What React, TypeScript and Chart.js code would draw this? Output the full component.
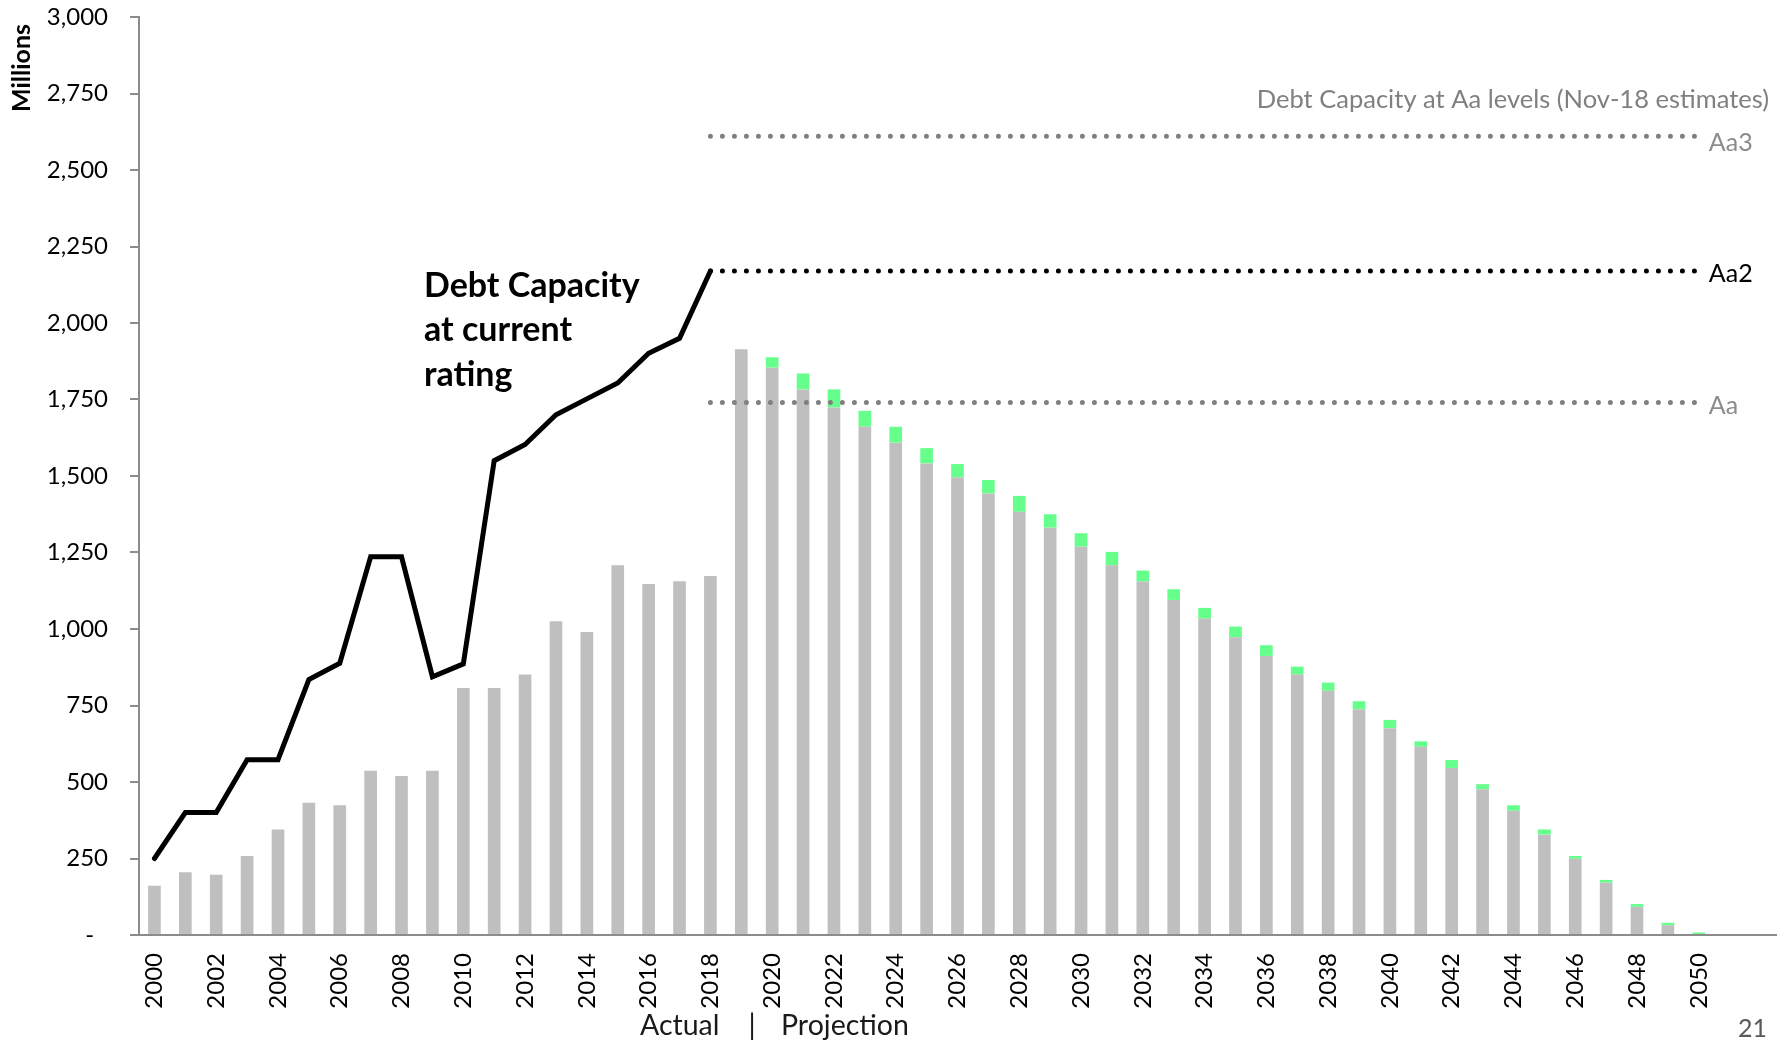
import React, { useEffect, useRef } from "react";
import { Chart, registerables } from "chart.js";

Chart.register(...registerables);

const years = [
  "2000", "2001", "2002", "2003", "2004", "2005", "2006", "2007", "2008", "2009",
  "2010", "2011", "2012", "2013", "2014", "2015", "2016", "2017", "2018", "2019",
  "2020", "2021", "2022", "2023", "2024", "2025", "2026", "2027", "2028", "2029",
  "2030", "2031", "2032", "2033", "2034", "2035", "2036", "2037", "2038", "2039",
  "2040", "2041", "2042", "2043", "2044", "2045", "2046", "2047", "2048", "2049",
  "2050", "2051", "2052",
];

const xTickLabels = [
  "2000", "2002", "2004", "2006", "2008", "2010", "2012", "2014", "2016", "2018",
  "2020", "2022", "2024", "2026", "2028", "2030", "2032", "2034", "2036", "2038",
  "2040", "2042", "2044", "2046", "2048", "2050",
];

// Debt outstanding (gray bars), millions
const baseDebt = [
  161, 205, 197, 258, 345, 432, 424, 537, 520, 537,
  807, 807, 851, 1025, 990, 1208, 1147, 1156, 1173, 1914,
  1854, 1783, 1724, 1661, 1609, 1541, 1496, 1443, 1383, 1331,
  1269, 1208, 1155, 1095, 1034, 973, 912, 851, 798, 738,
  676, 615, 546, 476, 406, 328, 249, 171, 92, 32,
  0, null, null,
];

// Additional projected debt (green bar tops), millions
const newDebt = [
  null, null, null, null, null, null, null, null, null, null,
  null, null, null, null, null, null, null, null, null, 0,
  34, 52, 59, 52, 52, 50, 43, 44, 52, 44,
  44, 44, 36, 35, 35, 35, 35, 26, 27, 26,
  27, 18, 26, 17, 18, 17, 9, 9, 9, 8,
  8, null, null,
];

// Debt capacity at current rating (black line), 2000-2018
const capacityCurrent = [
  250, 400, 400, 573, 573, 835, 888, 1236, 1236, 844,
  886, 1550, 1603, 1700, 1752, 1804, 1901, 1950, 2170,
];

// Debt capacity at Aa levels (Nov-18 estimates)
const refNames = ["Aa3", "Aa2", "Aa"];
const refValues = [2610, 2170, 1740];
const refLineColors = ["#808080", "#000000", "#808080"];
const refTextColors = ["#8c8c8c", "#000000", "#8c8c8c"];
const refLabelDy = [7, 3, 3];
const refSpan = ["2018", "2050"];

const yMin = 0;
const yMax = 3000;
const yStep = 250;

const FONT = "Lato, 'Open Sans', 'DejaVu Sans', sans-serif";

const annotationPlugin = {
  id: "annotations",
  afterDraw(chart: any) {
    const ctx = chart.ctx as CanvasRenderingContext2D;
    const x = chart.scales.x;
    const y = chart.scales.y;
    ctx.save();

    // "Millions" rotated title
    ctx.save();
    ctx.translate(30, 68);
    ctx.rotate(-Math.PI / 2);
    ctx.font = `bold 25px ${FONT}`;
    ctx.fillStyle = "#000";
    ctx.textAlign = "center";
    ctx.textBaseline = "alphabetic";
    ctx.fillText("Millions", 0, 0);
    ctx.restore();

    // Debt capacity at current rating
    ctx.font = `bold 34px ${FONT}`;
    ctx.fillStyle = "#000";
    ctx.textAlign = "left";
    ctx.textBaseline = "alphabetic";
    ctx.fillText("Debt Capacity", 424, 297);
    ctx.fillText("at current", 424, 341);
    ctx.fillText("rating", 424, 386);

    // Aa levels heading
    ctx.font = `25.5px ${FONT}`;
    ctx.fillStyle = "#808080";
    ctx.textAlign = "right";
    ctx.fillText("Debt Capacity at Aa levels (Nov-18 estimates)", 1769, 108);

    // Level labels
    ctx.font = `25px ${FONT}`;
    ctx.textAlign = "left";
    ctx.textBaseline = "middle";
    const lx = x.getPixelForValue(years.indexOf(refSpan[1])) + 10;
    refNames.forEach((n, i) => {
      ctx.fillStyle = refTextColors[i];
      ctx.fillText(n, lx, y.getPixelForValue(refValues[i]) + refLabelDy[i]);
    });

    // Actual | Projection
    ctx.font = `28.5px ${FONT}`;
    ctx.fillStyle = "#1a1a1a";
    ctx.textBaseline = "alphabetic";
    ctx.textAlign = "left";
    ctx.fillText("Actual", 640, 1035);
    ctx.textAlign = "center";
    ctx.fillText("|", 752, 1035);
    ctx.textAlign = "left";
    ctx.fillText("Projection", 781, 1035);

    // page number
    ctx.font = `25px ${FONT}`;
    ctx.fillStyle = "#595959";
    ctx.textAlign = "right";
    ctx.fillText("21", 1767, 1037);

    ctx.restore();
  },
};

export default function App() {
  const canvasRef = useRef<HTMLCanvasElement | null>(null);

  useEffect(() => {
    if (!canvasRef.current) return;
    Chart.defaults.font.family = FONT;

    const refDatasets = refNames.map((n, i) => ({
      type: "line" as const,
      label: n,
      data: refSpan.map((yr) => ({ x: yr, y: refValues[i] })),
      borderColor: refLineColors[i],
      borderWidth: 5,
      borderDash: [0, 12],
      borderCapStyle: "round" as const,
      pointRadius: 0,
      fill: false,
      stack: "ref" + i,
      order: 0,
    }));

    const chart = new Chart(canvasRef.current, {
      type: "bar",
      data: {
        labels: years,
        datasets: [
          {
            type: "line",
            label: "Debt Capacity at current rating",
            data: capacityCurrent,
            borderColor: "#000000",
            borderWidth: 5,
            borderJoinStyle: "miter",
            borderCapStyle: "round",
            pointRadius: 0,
            fill: false,
            tension: 0,
            stack: "cap",
            order: 0,
          } as any,
          ...refDatasets,
          {
            type: "bar",
            label: "Debt",
            data: baseDebt,
            backgroundColor: "#bfbfbf",
            barPercentage: 0.41,
            categoryPercentage: 1,
            stack: "debt",
            order: 1,
          },
          {
            type: "bar",
            label: "New debt",
            data: newDebt,
            backgroundColor: "#66ff8c",
            barPercentage: 0.41,
            categoryPercentage: 1,
            stack: "debt",
            order: 1,
          },
        ],
      },
      options: {
        responsive: false,
        animation: false,
        devicePixelRatio: 1,
        layout: { padding: { top: 17, left: 0, right: 13, bottom: 0 } },
        plugins: {
          legend: { display: false },
          tooltip: { enabled: false },
        },
        scales: {
          x: {
            stacked: true,
            grid: { display: false, drawTicks: false, tickLength: 0 },
            border: { display: true, color: "#8c8c8c", width: 2 },
            ticks: {
              autoSkip: false,
              minRotation: 90,
              maxRotation: 90,
              padding: 18,
              color: "#000",
              font: { size: 24, family: FONT },
              callback: (_v: any, idx: number) =>
                xTickLabels.includes(years[idx]) ? years[idx] : "",
            },
            afterFit: (scale: any) => {
              scale.height = 108;
              scale.paddingLeft = 0;
              scale.paddingRight = 0;
              scale.paddingTop = 0;
              scale.paddingBottom = 0;
            },
          },
          y: {
            stacked: true,
            min: yMin,
            max: yMax,
            grid: {
              drawOnChartArea: false,
              drawTicks: true,
              tickLength: 9,
              color: "#8c8c8c",
              lineWidth: 2,
            },
            border: { display: true, color: "#8c8c8c", width: 2 },
            ticks: {
              stepSize: yStep,
              padding: 22,
              color: "#000",
              font: { size: 24, family: FONT },
              callback: (v: any) =>
                Number(v) === 0 ? "-\u2007" : Number(v).toLocaleString("en-US"),
            },
            afterFit: (scale: any) => {
              scale.width = 139;
              scale.paddingLeft = 0;
              scale.paddingRight = 0;
              scale.paddingTop = 0;
              scale.paddingBottom = 0;
            },
          },
        },
      },
      plugins: [annotationPlugin],
    } as any);

    return () => chart.destroy();
  }, []);

  return (
    <div style={{ position: "fixed", left: 0, top: 0, width: 1789, height: 1043, background: "#fff" }}>
      <canvas ref={canvasRef} width={1789} height={1043} style={{ display: "block" }} />
    </div>
  );
}
